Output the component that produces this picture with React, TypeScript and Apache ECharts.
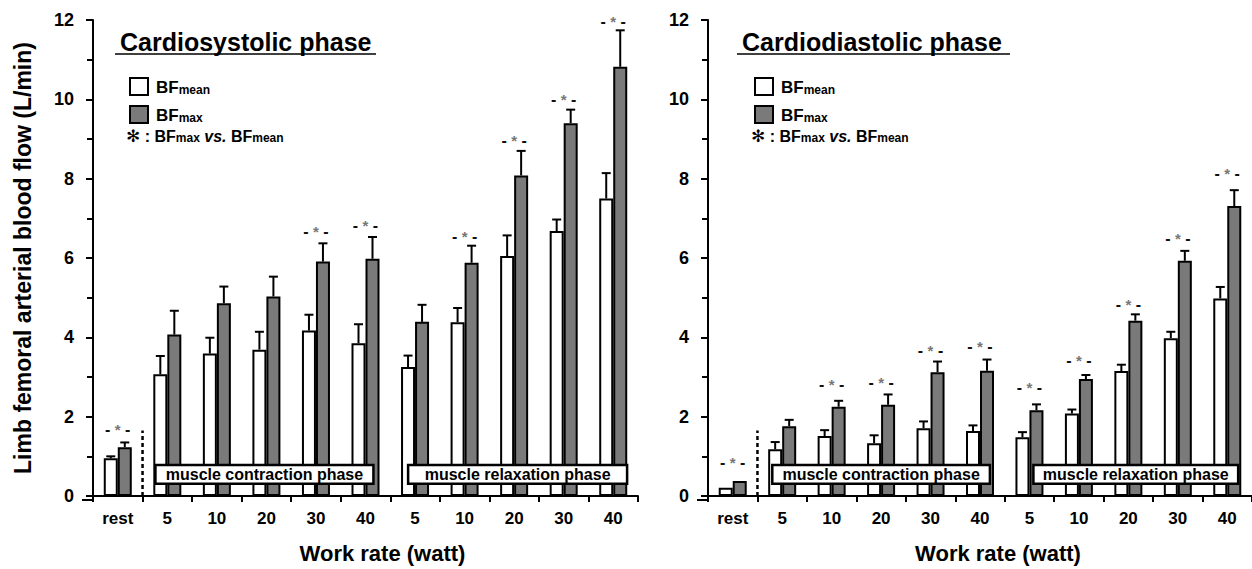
import React, { useEffect, useRef } from 'react';
import * as echarts from 'echarts';

// ---------- data ----------
const categories = ['rest', '5', '10', '20', '30', '40', '5', '10', '20', '30', '40'];
const panelTitles = ['Cardiosystolic phase', 'Cardiodiastolic phase'];
const phaseLabels = ['muscle contraction phase', 'muscle relaxation phase'];
const seriesNames = ['BFmean', 'BFmax'];

// Cardiosystolic phase (L/min)
const sysMean = [0.95, 3.07, 3.59, 3.69, 4.17, 3.85, 3.25, 4.38, 6.05, 6.68, 7.5];
const sysMeanSD = [0.05, 0.46, 0.4, 0.45, 0.4, 0.48, 0.29, 0.36, 0.52, 0.29, 0.64];
const sysMax = [1.23, 4.07, 4.86, 5.03, 5.91, 5.98, 4.39, 5.88, 8.08, 9.4, 10.82];
const sysMaxSD = [0.12, 0.6, 0.42, 0.5, 0.46, 0.55, 0.43, 0.43, 0.62, 0.34, 0.92];
const sysSig = [1.68, null, null, null, 6.68, 6.83, null, 6.55, 8.96, 10.0, 11.97];

// Cardiodiastolic phase (L/min)
const diaMean = [0.21, 1.18, 1.51, 1.33, 1.71, 1.64, 1.48, 2.08, 3.15, 3.98, 4.98];
const diaMeanSD = [0, 0.18, 0.15, 0.2, 0.17, 0.14, 0.13, 0.1, 0.16, 0.16, 0.29];
const diaMax = [0.38, 1.76, 2.25, 2.3, 3.12, 3.16, 2.16, 2.95, 4.42, 5.93, 7.31];
const diaMaxSD = [0, 0.16, 0.15, 0.26, 0.27, 0.28, 0.15, 0.1, 0.16, 0.25, 0.4];
const diaSig = [0.85, null, 2.82, 2.86, 3.68, 3.78, 2.73, 3.42, 4.83, 6.48, 8.13];

const yMin = 0;
const yMax = 12;
const yInterval = 2;

// ---------- styling ----------
const FONT = '"Liberation Sans", Arial, Helvetica, sans-serif';
const GRAY = '#7a7a7a';
const BAR_W = 14;

type Panel = {
  mean: number[]; meanSD: number[]; max: number[]; maxSD: number[]; sig: (number | null)[];
  gridLeft: number; gridRight: number; axisX: number;
  boxes: [number, number][]; titleLeft: number; titleW: number; legendLeft: number;
  nameShift: number; showYName: boolean;
};

const panels: Panel[] = [
  {
    mean: sysMean, meanSD: sysMeanSD, max: sysMax, maxSD: sysMaxSD, sig: sysSig,
    gridLeft: 93, gridRight: 614, axisX: 82,
    boxes: [[1.26, 5.66], [6.36, 10.78]], titleLeft: 115, titleW: 261, legendLeft: 124,
    nameShift: 34, showYName: true,
  },
  {
    mean: diaMean, meanSD: diaMeanSD, max: diaMax, maxSD: diaMaxSD, sig: diaSig,
    gridLeft: 708, gridRight: 0, axisX: 697,
    boxes: [[1.3, 5.7], [6.58, 10.72]], titleLeft: 737, titleW: 273, legendLeft: 749,
    nameShift: 36, showYName: false,
  },
];

function errRender(side: number) {
  return (params: any, api: any) => {
    const cat = api.value(0);
    const val = api.value(1);
    const sd = api.value(2);
    if (!sd) return { type: 'group', children: [] };
    const base = api.coord([cat, val]);
    const top = api.coord([cat, val + sd]);
    const x = base[0] + side * (BAR_W / 2);
    return {
      type: 'group',
      children: [
        { type: 'line', shape: { x1: x, y1: base[1], x2: x, y2: top[1] }, style: { stroke: '#000', lineWidth: 2 } },
        { type: 'line', shape: { x1: x - 4.5, y1: top[1], x2: x + 4.5, y2: top[1] }, style: { stroke: '#000', lineWidth: 2 } },
      ],
    };
  };
}

function sigRender(params: any, api: any) {
  const p = api.coord([api.value(0), api.value(1)]);
  return {
    type: 'text',
    x: p[0],
    y: p[1],
    style: {
      text: '{d|- }{s|*}{d| -}',
      align: 'center',
      verticalAlign: 'middle',
      rich: {
        d: { fontSize: 16, fontWeight: 'bold', fontFamily: FONT, fill: '#111' },
        s: { fontSize: 15, fontWeight: 'bold', fontFamily: FONT, fill: '#777' },
      },
    },
  };
}

function buildOption() {
  const grid: any[] = [];
  const xAxis: any[] = [];
  const yAxis: any[] = [];
  const series: any[] = [];
  const title: any[] = [];
  const legend: any[] = [];
  const graphic: any[] = [];

  panels.forEach((pn, i) => {
    grid.push({ left: pn.gridLeft, right: pn.gridRight, top: 20, bottom: 69, containLabel: false });
    xAxis[i] = {
      type: 'category', gridIndex: i, data: categories, boundaryGap: true,
      axisLine: { lineStyle: { color: '#000', width: 2 } },
      axisTick: { show: true, length: 6, lineStyle: { color: '#000', width: 2 } },
      axisLabel: { color: '#000', fontFamily: FONT, fontWeight: 'bold', fontSize: 17, margin: 14 },
      name: 'Work rate (watt)', nameLocation: 'middle', nameGap: 46,
      nameTextStyle: { color: '#000', fontFamily: FONT, fontWeight: 'bold', fontSize: 22, padding: [0, 0, 0, pn.nameShift] },
      splitLine: { show: false },
    };
    xAxis[i + 2] = { type: 'value', gridIndex: i, min: 0, max: 11, show: false };
    yAxis.push({
      type: 'value', gridIndex: i, min: yMin, max: yMax, interval: yInterval,
      offset: pn.gridLeft - pn.axisX,
      axisLine: { show: true, lineStyle: { color: '#000', width: 2 } },
      axisTick: { show: true, length: 7, lineStyle: { color: '#000', width: 2 } },
      minorTick: { show: true, splitNumber: 2, length: 6, lineStyle: { color: '#000', width: 2 } },
      axisLabel: { color: '#000', fontFamily: FONT, fontWeight: 'bold', fontSize: 18, margin: 8 },
      splitLine: { show: false },
      name: pn.showYName ? 'Limb femoral arterial blood flow (L/min)' : '',
      nameLocation: 'middle', nameGap: 48, nameRotate: 90,
      nameTextStyle: { color: '#000', fontFamily: FONT, fontWeight: 'bold', fontSize: 23 },
    });

    series.push({
      name: seriesNames[0], type: 'bar', xAxisIndex: i, yAxisIndex: i, data: pn.mean,
      barWidth: BAR_W, barGap: '0%',
      itemStyle: { color: '#fff', borderColor: '#000', borderWidth: 2 },
      z: 2,
    });
    series.push({
      name: seriesNames[1], type: 'bar', xAxisIndex: i, yAxisIndex: i, data: pn.max,
      barWidth: BAR_W, barGap: '0%',
      itemStyle: { color: GRAY, borderColor: '#000', borderWidth: 2 },
      z: 2,
    });
    series.push({
      type: 'custom', xAxisIndex: i, yAxisIndex: i, renderItem: errRender(-1),
      data: pn.mean.map((v, k) => [k, v, pn.meanSD[k]]), z: 3, silent: true,
    });
    series.push({
      type: 'custom', xAxisIndex: i, yAxisIndex: i, renderItem: errRender(1),
      data: pn.max.map((v, k) => [k, v, pn.maxSD[k]]), z: 3, silent: true,
    });
    series.push({
      type: 'custom', xAxisIndex: i, yAxisIndex: i, renderItem: sigRender,
      data: pn.sig.map((v, k) => [k, v]).filter((d) => d[1] !== null), z: 4, silent: true,
    });
    // dashed separator + phase boxes on the hidden value axis
    series.push({
      type: 'line', xAxisIndex: i + 2, yAxisIndex: i, data: [[1, 0], [1, 1.65]],
      symbol: 'none', silent: true, z: 10,
      lineStyle: { color: '#000', width: 2.5, type: [4, 3] },
      markArea: {
        silent: true,
        z: 20,
        itemStyle: { color: '#fff', borderColor: '#000', borderWidth: 2.5, opacity: 1 },
        label: {
          show: true, position: 'inside', color: '#000', fontFamily: FONT, fontWeight: 'bold', fontSize: 16,
        },
        data: pn.boxes.map((b, k) => [
          { name: phaseLabels[k], xAxis: b[0], yAxis: 0.31 },
          { xAxis: b[1], yAxis: 0.78 },
        ]),
      },
    });

    title.push({
      text: panelTitles[i], left: pn.titleLeft, top: 24,
      textStyle: { color: '#000', fontFamily: FONT, fontWeight: 'bold', fontSize: 25 },
    });
    graphic.push({
      type: 'line', shape: { x1: pn.titleLeft, y1: 54, x2: pn.titleLeft + pn.titleW, y2: 54 },
      style: { stroke: '#000', lineWidth: 1.5 },
    });
    // x-axis stub joining the offset y axis
    graphic.push({
      type: 'line', shape: { x1: pn.axisX, y1: 500, x2: pn.gridLeft, y2: 500 },
      style: { stroke: '#000', lineWidth: 2 },
    });
    graphic.push({
      type: 'text', left: pn.legendLeft + 2, top: 127,
      style: {
        text: '{st|✻}{a| : BF}{b|max}{i| vs. }{a|BF}{b|mean}',
        rich: {
          st: { fontSize: 17, fontWeight: 'bold', fontFamily: 'DejaVu Sans', fill: '#000', verticalAlign: 'bottom', lineHeight: 18 },
          a: { fontSize: 16, fontWeight: 'bold', fontFamily: FONT, fill: '#000', verticalAlign: 'bottom', lineHeight: 18 },
          b: { fontSize: 12, fontWeight: 'bold', fontFamily: FONT, fill: '#000', verticalAlign: 'bottom', lineHeight: 15 },
          i: { fontSize: 16, fontWeight: 'bold', fontStyle: 'italic', fontFamily: FONT, fill: '#000', verticalAlign: 'bottom', lineHeight: 18 },
        },
      },
    });
    legend.push({
      data: seriesNames, orient: 'vertical', left: pn.legendLeft, top: 72,
      itemWidth: 18, itemHeight: 17, itemGap: 9, icon: 'rect', selectedMode: false,
      formatter: (name: string) => (name === 'BFmean' ? '{a|BF}{b|mean}' : '{a|BF}{b|max}'),
      textStyle: {
        rich: {
          a: { fontSize: 17, fontWeight: 'bold', fontFamily: FONT, color: '#000', padding: [0, 0, 0, 3], verticalAlign: 'bottom', lineHeight: 18 },
          b: { fontSize: 12, fontWeight: 'bold', fontFamily: FONT, color: '#000', verticalAlign: 'bottom', lineHeight: 15 },
        },
      },
    });
  });

  return {
    animation: false,
    backgroundColor: '#fff',
    textStyle: { fontFamily: FONT },
    title, legend, grid, xAxis, yAxis, series, graphic,
  };
}

export default function App() {
  const ref = useRef<HTMLDivElement>(null);
  useEffect(() => {
    if (!ref.current) return;
    const chart = echarts.init(ref.current, undefined, { renderer: 'svg' });
    chart.setOption(buildOption() as any);
    return () => chart.dispose();
  }, []);
  return <div ref={ref} style={{ position: 'absolute', left: 0, top: 0, width: 1252, height: 569 }} />;
}
